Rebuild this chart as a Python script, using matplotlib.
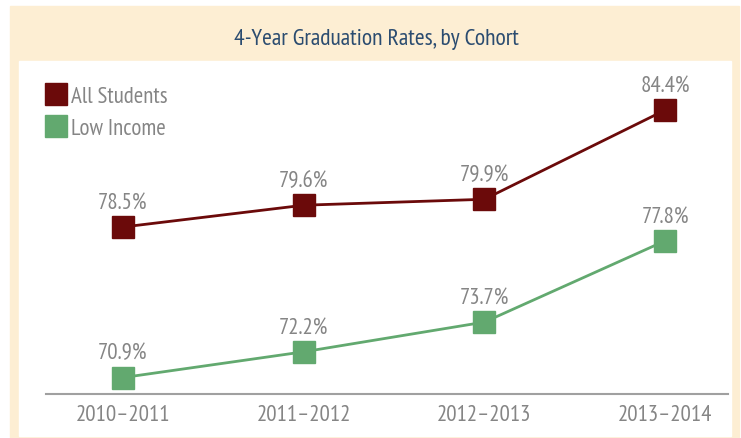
import matplotlib.pyplot as plt
from matplotlib.patches import Rectangle
from matplotlib.lines import Line2D

cohorts = ["2010\u20132011", "2011\u20132012", "2012\u20132013", "2013\u20132014"]
all_students = [78.5, 79.6, 79.9, 84.4]
low_income = [70.9, 72.2, 73.7, 77.8]

red = "#6b0a0a"
green = "#62a96f"
beige = "#fdeed3"
gray = "#858585"

plt.rcParams["font.family"] = ["PT Sans Narrow", "Roboto Condensed", "DejaVu Sans"]

W, H = 741, 439
fig = plt.figure(figsize=(W / 100, H / 100), dpi=100)

# panel background
fig.patches.append(Rectangle((10 / W, 0), 729 / W, 432 / H,
                             transform=fig.transFigure, color=beige, zorder=-2))
fig.patches.append(Rectangle((19 / W, 2 / H), 712 / W, 375 / H,
                             transform=fig.transFigure, color="white", zorder=-1))
fig.text(376 / W, 1 - 39 / H, "4-Year Graduation Rates, by Cohort",
         ha="center", va="center", fontsize=17, color="#2b4c70")

ax = fig.add_axes([46 / W, 1 - 395 / H, 682 / W, 333 / H])
ax.patch.set_alpha(0)
x = range(len(cohorts))
ax.plot(x, all_students, color=red, lw=2, marker="s", ms=15.8, zorder=3, clip_on=False)
ax.plot(x, low_income, color=green, lw=2, marker="s", ms=15.8, zorder=3, clip_on=False)

for xi, v in zip(x, all_students):
    ax.annotate(f"{v}%", (xi, v), xytext=(0, 14), textcoords="offset points",
                ha="center", va="baseline", fontsize=16.5, color=gray)
for xi, v in zip(x, low_income):
    ax.annotate(f"{v}%", (xi, v), xytext=(0, 14), textcoords="offset points",
                ha="center", va="baseline", fontsize=16.5, color=gray)

ax.set_xlim(-0.426, 3.348)
ax.set_ylim(70.07, 86.88)
ax.set_xticks(list(x))
ax.set_xticklabels(cohorts, fontsize=16.5, color=gray)
ax.tick_params(axis="x", length=0, pad=7)
ax.set_yticks([])
for s in ["top", "left", "right"]:
    ax.spines[s].set_visible(False)
ax.spines["bottom"].set_color("#a0a0a0")
ax.spines["bottom"].set_linewidth(1.5)

handles = [Line2D([], [], color=red, marker="s", ls="", ms=15.8),
           Line2D([], [], color=green, marker="s", ls="", ms=15.8)]
leg = fig.legend(handles, ["All Students", "Low Income"], loc="upper left",
                 bbox_to_anchor=(35 / W, 1 - 78 / H), frameon=False,
                 fontsize=16.5, handletextpad=0.15, labelspacing=0.45,
                 handlelength=1.0, borderaxespad=0)
for t in leg.get_texts():
    t.set_color(gray)

fig.savefig("out.png", dpi=100)
